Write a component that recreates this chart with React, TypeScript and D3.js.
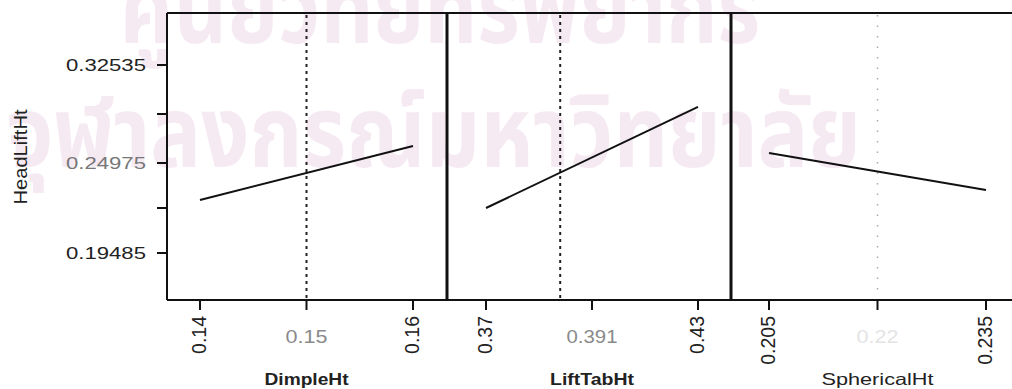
import React from "react";
import * as d3 from "d3";

// profiler panels: factor name, low / high settings, current setting
const factors = ["DimpleHt", "LiftTabHt", "SphericalHt"];
const lowValues = [0.14, 0.37, 0.205];
const highValues = [0.16, 0.43, 0.235];
const currentValues = [0.15, 0.391, 0.22];
const currentLabels = ["0.15", "0.391", "0.22"];
const lowLabels = ["0.14", "0.37", "0.205"];
const highLabels = ["0.16", "0.43", "0.235"];

// predicted HeadLiftHt at low and high setting of each factor
const responseAtLow = [0.2272, 0.2223, 0.2575];
const responseAtHigh = [0.2629, 0.293, 0.2333];

// y axis tick values (labelled ones + unlabelled minor ones)
const yTickLabels = ["0.19485", "0.24975", "0.32535"];
const yTickValues = [0.19485, 0.24975, 0.32535];
const yMinorTicks = [0.2223, 0.28755];

// watermark lines of the scanned page
const watermark = ["ศูนย์วิทยทรัพยากร", "จุฬาลงกรณ์มหาวิทยาลัย"];

const width = 1012;
const height = 389;
const frameLeft = 167;
const frameTop = 13;
const frameBottom = 300;
const panelEdges = [167, 447, 731, 1011];
const padLeft = [33, 39, 38];
const padRight = [34, 33, 25];

const App: React.FC = () => {
  const yScale = d3
    .scaleLinear()
    .domain(yTickValues)
    .range([253, 163, 65]);

  const panels = factors.map((name, i) => {
    const x = d3
      .scaleLinear()
      .domain([lowValues[i], highValues[i]])
      .range([panelEdges[i] + padLeft[i], panelEdges[i + 1] - padRight[i]]);
    return { name, i, x };
  });

  const line = d3
    .line<[number, number]>()
    .x((d) => d[0])
    .y((d) => yScale(d[1]));

  return (
    <svg
      width={width}
      height={height}
      style={{ position: "absolute", left: 0, top: 0, background: "#fff" }}
      fontFamily="Arial, 'Liberation Sans', sans-serif"
    >
      {/* watermark */}
      <g fill="#f6eaf2" fontFamily="'Noto Sans Thai', 'Noto Sans', sans-serif" fontWeight="bold">
        <text x={120} y={43} fontSize={100} textLength={640} lengthAdjust="spacingAndGlyphs">
          {watermark[0]}
        </text>
        <text x={6} y={167} fontSize={100} textLength={855} lengthAdjust="spacingAndGlyphs">
          {watermark[1]}
        </text>
      </g>

      {/* frame */}
      <line x1={frameLeft} x2={width} y1={frameTop} y2={frameTop} stroke="#111" strokeWidth={2} />
      <line x1={frameLeft} x2={width} y1={frameBottom} y2={frameBottom} stroke="#111" strokeWidth={2} />
      <line x1={frameLeft} x2={frameLeft} y1={frameTop} y2={frameBottom} stroke="#111" strokeWidth={2} />
      {panelEdges.slice(1, 3).map((e) => (
        <line key={e} x1={e} x2={e} y1={frameTop} y2={frameBottom} stroke="#111" strokeWidth={3} />
      ))}

      {/* y axis */}
      {yTickValues.concat(yMinorTicks).map((v) => (
        <line key={v} x1={frameLeft - 10} x2={frameLeft} y1={yScale(v)} y2={yScale(v)} stroke="#111" strokeWidth={2} />
      ))}
      {yTickValues.map((v, k) => (
        <text
          key={v}
          x={146}
          y={yScale(v) + 6}
          textAnchor="end"
          fontSize={16.5}
          textLength={80}
          lengthAdjust="spacingAndGlyphs"
          fill={k === 1 ? "#777" : "#222"}
        >
          {yTickLabels[k]}
        </text>
      ))}
      <text
        transform={`translate(27, 157) rotate(-90)`}
        textAnchor="middle"
        fontSize={19}
        textLength={95}
        lengthAdjust="spacingAndGlyphs"
        fill="#222"
      >
        HeadLiftHt
      </text>

      {panels.map(({ name, i, x }) => {
        const lo = lowValues[i];
        const hi = highValues[i];
        const mid = (lo + hi) / 2;
        const cx = x(currentValues[i]);
        return (
          <g key={name}>
            {/* current setting */}
            <line
              x1={cx}
              x2={cx}
              y1={frameTop + 2}
              y2={frameBottom - 2}
              stroke={i === 2 ? "#aaa" : "#222"}
              strokeWidth={i === 2 ? 1.5 : 2}
              strokeDasharray={i === 2 ? "1.5,9" : "3,4"}
            />
            {/* response line */}
            <path
              d={line([
                [x(lo), responseAtLow[i]],
                [x(hi), responseAtHigh[i]],
              ]) as string}
              fill="none"
              stroke="#111"
              strokeWidth={2}
            />
            {/* ticks */}
            {[lo, mid, hi].map((v) => (
              <line key={v} x1={x(v)} x2={x(v)} y1={frameBottom} y2={frameBottom + 10} stroke="#111" strokeWidth={2} />
            ))}
            {[lo, hi].map((v, k) => (
              <text
                key={v}
                transform={`translate(${x(v) + 6}, 316) rotate(-90)`}
                textAnchor="end"
                fontSize={19.5}
                fill="#222"
              >
                {k === 0 ? lowLabels[i] : highLabels[i]}
              </text>
            ))}
            <text
              x={x(mid)}
              y={343}
              textAnchor="middle"
              fontSize={18}
              textLength={i === 1 ? 51 : 42}
              lengthAdjust="spacingAndGlyphs"
              fill={i === 2 ? "#e4e4e4" : "#8a8a8a"}
              fontWeight={300}
            >
              {currentLabels[i]}
            </text>
            <text
              x={x(mid)}
              y={385}
              textAnchor="middle"
              fontSize={16.5}
              textLength={i === 2 ? 112 : 84}
              lengthAdjust="spacingAndGlyphs"
              fontWeight={i === 2 ? "normal" : "bold"}
              fill="#222"
            >
              {name}
            </text>
          </g>
        );
      })}
    </svg>
  );
};

export default App;
